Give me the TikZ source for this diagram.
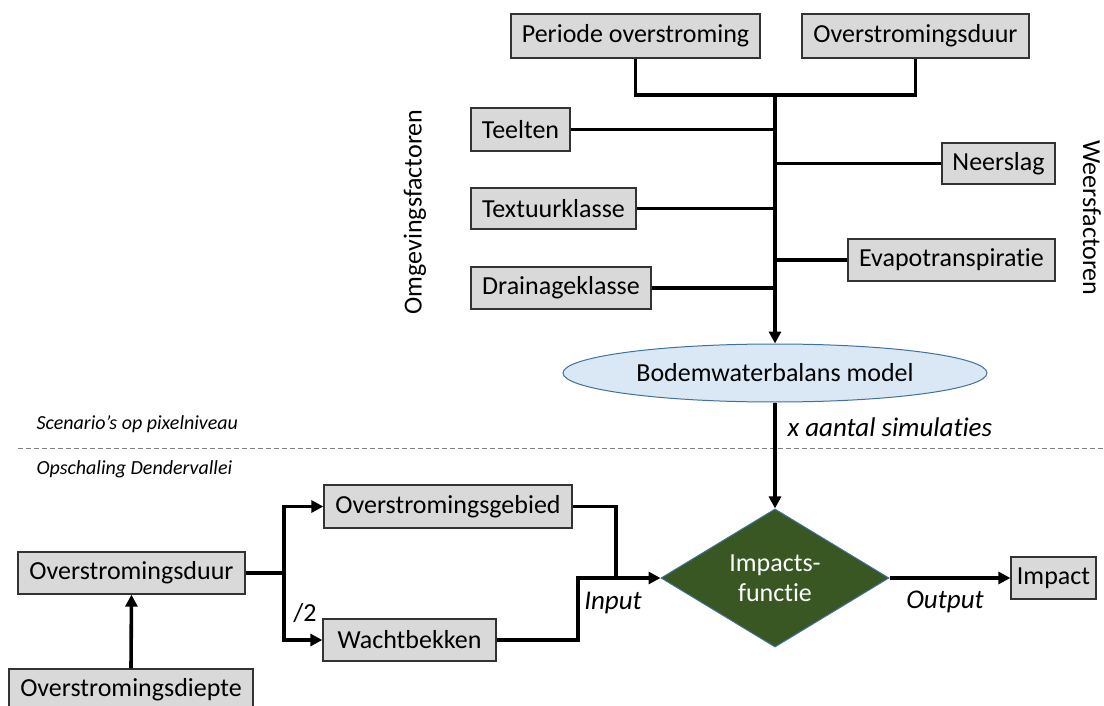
\documentclass[tikz,border=0pt]{standalone}
\usepackage{fontspec}
\setmainfont[Ligatures=NoCommon]{Carlito}
\usetikzlibrary{arrows.meta,shapes.geometric}
\definecolor{boxfill}{HTML}{D9D9D9}
\definecolor{ellfill}{HTML}{DAE7F4}
\definecolor{bluedge}{HTML}{41719C}
\definecolor{dgreen}{HTML}{385723}
\begin{document}
\begin{tikzpicture}[x=1pt,y=-1pt,
  box/.style={draw=black!80, line width=1.3pt, fill=boxfill, inner sep=0pt, font=\fontsize{26}{31}\selectfont},
  conn/.style={line width=3.6pt},
  arr/.style={conn, -{Triangle[length=12pt,width=12pt]}},
  lab/.style={font=\fontsize{27}{32}\selectfont\itshape},
  small/.style={font=\fontsize{20}{24}\selectfont\itshape},
  side/.style={font=\fontsize{26}{31}\selectfont},
]
\useasboundingbox (0,0) rectangle (1104,706);
% top boxes
\node[box, minimum width=249pt, minimum height=44pt] (per) at (635.5,36) {Periode overstroming};
\node[box, minimum width=227pt, minimum height=44pt] (od1) at (915.5,36) {Overstromingsduur};
\node[box, minimum width=99pt, minimum height=43pt] (teel) at (520.5,129.5) {Teelten};
\node[box, minimum width=165pt, minimum height=41pt] (text) at (553.5,208.5) {Textuurklasse};
\node[box, minimum width=180pt, minimum height=42pt] (drain) at (561,288) {Drainageklasse};
\node[box, minimum width=113pt, minimum height=41pt] (neer) at (998.5,163.5) {Neerslag};
\node[box, minimum width=207pt, minimum height=42pt] (evap) at (951.5,260) {Evapotranspiratie};
\node[side, rotate=90] (omg) at (415,212) {Omgevingsfactoren};
\node[side, rotate=-90] (weer) at (1092,218) {Weersfactoren};
\node[ellipse, draw=bluedge, line width=1pt, fill=ellfill, inner sep=0pt, minimum width=424pt, minimum height=58pt, font=\fontsize{26}{31}\selectfont] (model) at (775,373) {Bodemwaterbalans model};
% top connectors
\coordinate (j1) at (775,95);
\draw[conn] (per.south) |- (j1) -| (od1.south);
\draw[arr] (j1) -- (model.north);
\draw[conn] (teel.east) -- (teel.east -| j1);
\draw[conn] (text.east) -- (text.east -| j1);
\draw[conn] (drain.east) -- (drain.east -| j1);
\draw[conn] (neer.west) -- (neer.west -| j1);
\draw[conn] (evap.west) -- (evap.west -| j1);
% separator
\coordinate (dl1) at (18,448);
\coordinate (dl2) at (1104,448);
\draw[black!50, line width=1pt, dash pattern=on 5pt off 3pt] (dl1) -- (dl2);
\node[small, anchor=west] (scen) at (33,424) {Scenario’s op pixelniveau};
\node[small, anchor=west] (opsch) at (33,469) {Opschaling Dendervallei};
\node[lab, anchor=west] (xsim) at (784,427) {x aantal simulaties};
% bottom
\node[diamond, draw=bluedge, line width=1pt, fill=dgreen, inner sep=0pt, minimum width=228pt, minimum height=112pt, text=white, align=center, font=\fontsize{26}{30}\selectfont] (impf) at (775,578) {Impacts-\\functie};
\node[box, minimum width=85pt, minimum height=42pt] (impact) at (1053.5,578) {Impact};
\node[box, minimum width=248pt, minimum height=43pt] (gebied) at (448,506.5) {Overstromingsgebied};
\node[box, minimum width=173pt, minimum height=42pt] (wacht) at (409.5,640) {Wachtbekken};
\node[box, minimum width=227pt, minimum height=42pt] (od2) at (131.5,573) {Overstromingsduur};
\node[box, minimum width=244pt, minimum height=42pt] (diepte) at (131,690) {Overstromingsdiepte};
\node[lab] (inp) at (613,603) {Input};
\node[lab] (outp) at (945,602) {Output};
\node[side] (half) at (305,613) {/2};
\draw[arr] (model.south) -- (impf.north);
\draw[arr] (impf.east) -- (impact.west);
\coordinate (jb) at (284,573);
\draw[conn] (od2.east) -- (jb);
\draw[arr] (jb) |- (gebied.west);
\draw[arr] (jb) |- (wacht.west);
\draw[arr] (diepte.north) -- (od2.south);
\coordinate (ji) at (616,578);
\coordinate (jw) at (578,578);
\draw[conn] (gebied.east) -| (ji);
\draw[arr] (wacht.east) -| (jw) -- (impf.west);
\end{tikzpicture}
\end{document}
